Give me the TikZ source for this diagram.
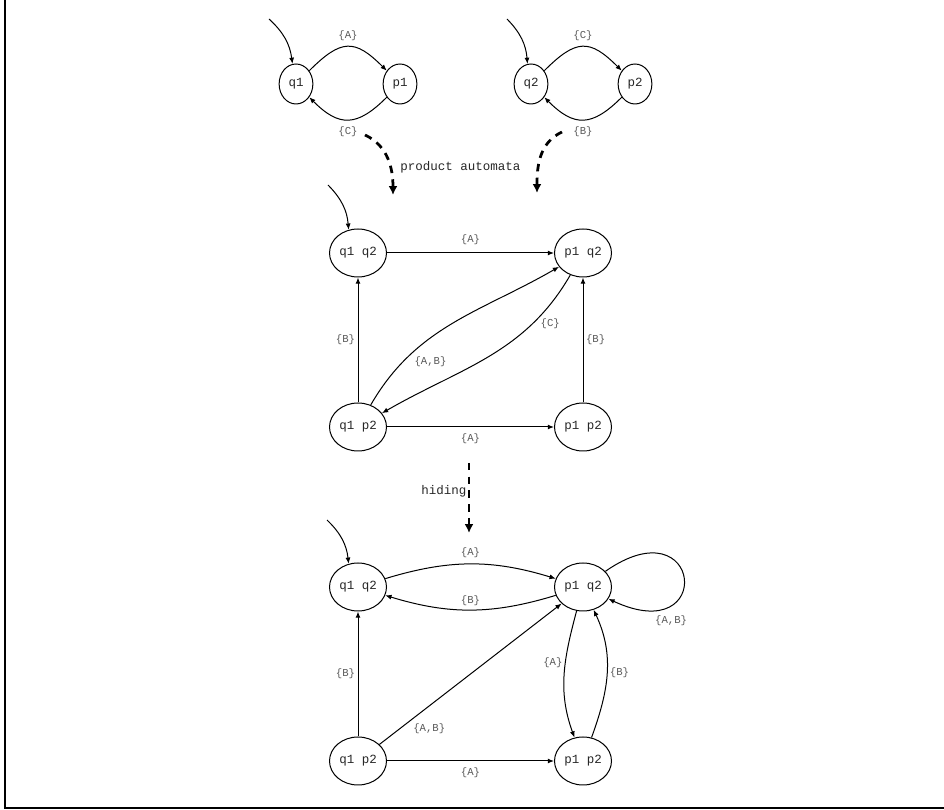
\documentclass[tikz,border=0pt]{standalone}
\usepackage{fontspec}
\setmonofont{Liberation Mono}
\usetikzlibrary{shapes.geometric,arrows.meta}

\tikzset{
  state/.style={draw,thick,ellipse,inner sep=0pt,font=\ttfamily\fontsize{10}{12}\selectfont,text=black!85},
  small state/.style={state,minimum width=27pt,minimum height=32pt},
  big state/.style={state,minimum width=45.6pt,minimum height=38.4pt},
  lbl/.style={font=\ttfamily\fontsize{8.5}{10}\selectfont,text=black!65,inner sep=2pt},
  trans/.style={->,thick},
  hop/.style={line width=2.2pt,dash pattern=on 6pt off 5pt,-{Latex[length=7pt,width=7pt]}}
}

\begin{document}
\begin{tikzpicture}[x=0.8pt,y=0.8pt,>={Latex[length=5pt,width=4pt]}]
  \useasboundingbox (0,0) rectangle (944,810);
  \draw[line width=1.9pt] (5,810) -- (5,2) -- (944,2);

  % the two automata
  \node[small state] (q1) at (296,726) {q1};
  \node[small state] (p1) at (400,726) {p1};
  \node[small state] (q2) at (531,726) {q2};
  \node[small state] (p2) at (635,726) {p2};
  \coordinate (iq1) at (269,791);
  \coordinate (iq2) at (507,791);

  \draw[trans] (iq1) to[bend left=20] (q1.100);
  \draw[trans] (iq2) to[bend left=20] (q2.100);
  \draw[trans] (q1) to[bend left=45,looseness=1.5] node[lbl,above=2pt] (la1) {\{A\}} (p1);
  \draw[trans] (p1) to[bend left=45,looseness=1.4] node[lbl,below=3pt] (lc1) {\{C\}} (q1);
  \draw[trans] (q2) to[bend left=45,looseness=1.5] node[lbl,above=2pt] (lc2) {\{C\}} (p2);
  \draw[trans] (p2) to[bend left=45,looseness=1.4] node[lbl,below=3pt] (lb2) {\{B\}} (q2);

  % product
  \coordinate (pa1s) at (365,675);
  \coordinate (pa1e) at (393,615);
  \coordinate (pa2s) at (562,678);
  \coordinate (pa2e) at (537,617);
  \draw[hop] (pa1s) to[out=-25,in=90] (pa1e);
  \draw[hop] (pa2s) to[out=205,in=90] (pa2e);
  \node[font=\ttfamily\fontsize{10}{12}\selectfont,text=black!85,anchor=west,inner sep=0pt] (prod) at (400,643) {product automata};

  \node[big state] (q1q2) at (358,557) {q1 q2};
  \node[big state] (p1q2) at (583,557) {p1 q2};
  \node[big state] (q1p2) at (358,383) {q1 p2};
  \node[big state] (p1p2) at (583,383) {p1 p2};
  \coordinate (iq1q2) at (328,625);

  \draw[trans] (iq1q2) to[bend left=20] (q1q2.112);
  \draw[trans] (q1q2) -- node[lbl,above=4pt] (lma) {\{A\}} (p1q2);
  \draw[trans] (q1p2) -- node[lbl,below=3pt] (lmb) {\{A\}} (p1p2);
  \draw[trans] (q1p2) -- node[lbl,left] (lmc) {\{B\}} (q1q2);
  \draw[trans] (p1p2) -- node[lbl,right] (lmd) {\{B\}} (p1q2);
  \draw[trans] (q1p2) to[out=60,in=210] node[lbl,pos=0.27,below right] (lme) {\{A,B\}} (p1q2);
  \draw[trans] (p1q2) to[out=240,in=30] node[lbl,pos=0.25,right=4pt] (lmf) {\{C\}} (q1p2);

  % hiding
  \coordinate (hs) at (469,347);
  \coordinate (he) at (469,277);
  \draw[hop] (hs) -- node[font=\ttfamily\fontsize{10}{12}\selectfont,text=black!85,pos=0.4,left=1pt,inner sep=0pt] (hid) {hiding} (he);

  \node[big state] (hq1q2) at (358,223) {q1 q2};
  \node[big state] (hp1q2) at (583,223) {p1 q2};
  \node[big state] (hq1p2) at (358,49) {q1 p2};
  \node[big state] (hp1p2) at (583,49) {p1 p2};
  \coordinate (ihq1q2) at (327,290);

  \draw[trans] (ihq1q2) to[bend left=20] (hq1q2.112);
  \draw[trans] (hq1q2) to[bend left=17] node[lbl,above=3pt] (lha) {\{A\}} (hp1q2);
  \draw[trans] (hp1q2) to[bend left=17] node[lbl,above=1pt] (lhb) {\{B\}} (hq1q2);
  \draw[trans] (hp1q2) to[out=35,in=-25,looseness=11] node[lbl,pos=0.72,below=7pt] (lhc) {\{A,B\}} (hp1q2);
  \draw[trans] (hp1q2) to[out=-105,in=110] node[lbl,pos=0.4,left] (lhd) {\{A\}} (hp1p2);
  \draw[trans] (hp1p2) to[out=70,in=-65] node[lbl,right] (lhe) {\{B\}} (hp1q2);
  \draw[trans] (hq1p2) -- node[lbl,left] (lhf) {\{B\}} (hq1q2);
  \draw[trans] (hq1p2) -- node[lbl,pos=0.17,below right] (lhg) {\{A,B\}} (hp1q2);
  \draw[trans] (hq1p2) -- node[lbl,below=3pt] (lhh) {\{A\}} (hp1p2);
\end{tikzpicture}
\end{document}
